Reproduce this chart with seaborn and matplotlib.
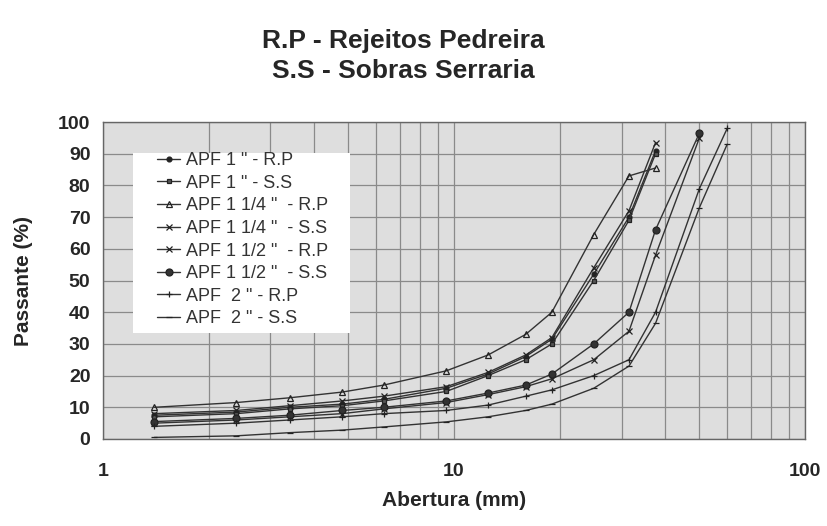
import numpy as np
import pandas as pd
import matplotlib
matplotlib.use("Agg")
import matplotlib.pyplot as plt
import seaborn as sns
from matplotlib.patches import Rectangle
from matplotlib.ticker import LogLocator, FixedLocator, NullFormatter

# sieve openings (mm)
sieves = [1.4, 2.4, 3.4, 4.8, 6.3, 9.5, 12.5, 16, 19, 25, 31.5, 37.5, 50, 60]

# percent passing per mix
apf1_rp = [7.5, 8.5, 10, 11, 12.5, 16, 20.5, 26, 31.5, 52, 70, 91]
apf1_ss = [7, 8, 9.5, 10.5, 12, 15, 20, 25, 30, 50, 69, 90]
apf114_rp = [10, 11.5, 13, 14.8, 17, 21.5, 26.5, 33, 40, 64.5, 83, 85.5]
apf114_ss = [8, 9, 10.5, 12, 13.5, 16.5, 21, 26.5, 32, 54, 72, 93.5]
apf112_rp = [5, 6, 7, 8, 9.5, 11.5, 14, 16.5, 19, 25, 34, 58, 95]
apf112_ss = [5.5, 6.5, 7.5, 9, 10, 12, 14.5, 17, 20.5, 30, 40, 66, 96.5]
apf2_rp = [4, 5, 6, 7, 8, 9, 10.7, 13.5, 15.5, 20, 25, 40, 79, 98]
apf2_ss = [0.5, 1, 2, 2.8, 3.8, 5.4, 7, 9, 11, 16, 23, 36.5, 73, 93]

labels = ['APF 1 " - R.P', 'APF 1 " - S.S', 'APF 1 1/4 "  - R.P', 'APF 1 1/4 "  - S.S',
          'APF 1 1/2 "  - R.P', 'APF 1 1/2 "  - S.S', 'APF  2 " - R.P', 'APF  2 " - S.S']
series = [apf1_rp, apf1_ss, apf114_rp, apf114_ss, apf112_rp, apf112_ss, apf2_rp, apf2_ss]

# marker styles: (marker, size, facecolor)
styles = [('o', 3.5, '#222222'), ('s', 3.5, '#555555'), ('^', 4.5, 'none'), ('x', 4, '#222222'),
          ('x', 4, '#444444'), ('o', 5, '#333333'), ('+', 5, '#222222'), ('_', 5, '#222222')]

sns.set_style("white")
plt.rcParams['font.family'] = ['Liberation Sans', 'DejaVu Sans']

fig = plt.figure(figsize=(8.27, 5.26), dpi=100)
ax = fig.add_axes([0.1245, 0.1654, 0.849, 0.6026])
ax.set_facecolor('#dedede')

for lab, vals, (m, ms, fc) in zip(labels, series, styles):
    d = pd.DataFrame({'x': sieves[:len(vals)], 'y': vals})
    sns.lineplot(data=d, x='x', y='y', ax=ax, color='#333333', linewidth=1.0,
                 marker=m, markersize=ms, markerfacecolor=fc, markeredgecolor='#222222',
                 markeredgewidth=0.9, label=lab)

ax.set_xscale('log')
ax.set_xlim(1, 100)
ax.set_ylim(0, 100)
ax.set_yticks(range(0, 101, 10))
ax.xaxis.set_major_locator(FixedLocator([1, 10, 100]))
ax.xaxis.set_minor_locator(LogLocator(base=10, subs=np.arange(2, 10)))
ax.xaxis.set_minor_formatter(NullFormatter())
ax.set_xticklabels(['1', '10', '100'])
ax.grid(True, which='both', axis='x', color='#8a8a8a', linewidth=0.9)
ax.grid(True, which='major', axis='y', color='#8a8a8a', linewidth=0.9)
ax.tick_params(axis='both', which='both', length=0, labelsize=14)
ax.tick_params(axis='x', pad=17)
ax.tick_params(axis='y', pad=9)
for t in ax.get_xticklabels() + ax.get_yticklabels():
    t.set_fontweight('bold')
for s in ax.spines.values():
    s.set_color('#666666')
    s.set_linewidth(1.0)

ax.set_xlabel('Abertura (mm)', fontsize=15, fontweight='bold', labelpad=8)
ax.set_ylabel('Passante (%)', fontsize=15, fontweight='bold', labelpad=18)

fig.text(0.488, 0.922, 'R.P - Rejeitos Pedreira', ha='center', va='center', fontsize=19, fontweight='bold')
fig.text(0.488, 0.865, 'S.S - Sobras Serraria', ha='center', va='center', fontsize=19, fontweight='bold')

# white legend box
ax.add_patch(Rectangle((0.0427, 0.334), 0.309, 0.568, transform=ax.transAxes,
                       facecolor='white', edgecolor='none', zorder=3))
leg = ax.legend(loc='upper left', bbox_to_anchor=(0.077, 0.905), borderaxespad=0, fontsize=13,
                frameon=False, handlelength=1.3, handletextpad=0.28, labelspacing=0.31,
                borderpad=0)
leg.set_zorder(4)
for t in leg.get_texts():
    t.set_color('#333333')

fig.savefig('out.png', dpi=100)
